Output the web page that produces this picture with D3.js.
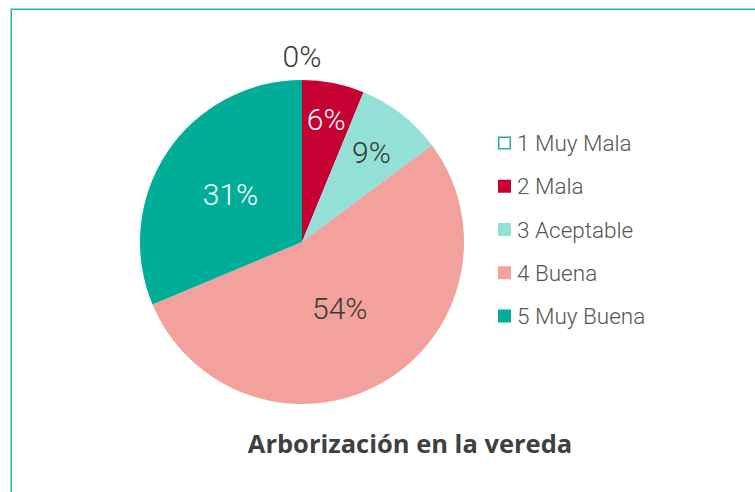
<!DOCTYPE html>
<html>
<head>
<meta charset="utf-8">
<script src="https://cdn.jsdelivr.net/npm/d3@7"></script>
<style>
  body { margin: 0; background: #fff; }
  svg { display: block; font-family: Roboto, "Noto Sans", sans-serif; }
</style>
</head>
<body>
<div class="chart"></div>
<script>
// data
var categories = ["1 Muy Mala", "2 Mala", "3 Aceptable", "4 Buena", "5 Muy Buena"];
var values = [0, 6.2, 8.6, 53.9, 31.3];
var colors = ["#ffffff", "#c70032", "#93e1d6", "#f3a19c", "#00ad98"];
var title = "Arborización en la vereda";

// label layout (fraction of radius), text colour per slice
var labelRadius = [1.15, 0.77, 0.70, 0.47, 0.53];
var labelColor = ["#3a3a3a", "#ffffff", "#3a3a3a", "#3a3a3a", "#ffffff"];

var width = 755, height = 492;
var cx = 302, cy = 242, radius = 162;

var svg = d3.select(".chart")
	.append("svg")
	.attr("width", width)
	.attr("height", height);

// frame
svg.append("path")
	.attr("d", "M10.5," + height + "V8.5H" + width)
	.attr("fill", "none")
	.attr("stroke", "#8fded3")
	.attr("stroke-width", 1);
svg.append("path")
	.attr("d", "M11.5," + height + "V9.5H" + width)
	.attr("fill", "none")
	.attr("stroke", "#1fb39f")
	.attr("stroke-width", 1);

var total = d3.sum(values);

var pie = d3.pie().sort(null).value(function(d){ return d; });
var arcs = pie(values);

var arc = d3.arc().innerRadius(0).outerRadius(radius);

var g = svg.append("g").attr("transform", "translate(" + cx + "," + cy + ")");

g.selectAll("path.slice")
	.data(arcs)
	.enter()
	.append("path")
		.attr("class", "slice")
		.attr("d", arc)
		.attr("fill", function(d, i){ return colors[i]; });

g.selectAll("text.lbl")
	.data(arcs)
	.enter()
	.append("text")
		.attr("class", "lbl")
		.attr("transform", function(d, i){
			var r = radius * labelRadius[i];
			var a = (d.startAngle + d.endAngle) / 2;
			return "translate(" + (Math.sin(a) * r) + "," + (-Math.cos(a) * r) + ")";
		})
		.attr("text-anchor", "middle")
		.attr("dy", "0.36em")
		.attr("font-size", 30)
		.attr("font-weight", 300)
		.attr("fill", function(d, i){ return labelColor[i]; })
		.text(function(d){ return Math.round(d.data / total * 100) + "%"; });

// legend
var legendY = d3.scalePoint()
	.domain(categories)
	.range([143, 316]);

var legend = svg.selectAll("g.legend")
	.data(categories)
	.enter()
	.append("g")
		.attr("class", "legend")
		.attr("transform", function(d){ return "translate(498," + legendY(d) + ")"; });

legend.append("rect")
	.attr("x", function(d, i){ return i === 0 ? 0.75 : 0; })
	.attr("y", function(d, i){ return i === 0 ? -5.75 : -6.5; })
	.attr("width", function(d, i){ return i === 0 ? 11.5 : 13; })
	.attr("height", function(d, i){ return i === 0 ? 11.5 : 13; })
	.attr("fill", function(d, i){ return colors[i]; })
	.attr("stroke", function(d, i){ return i === 0 ? "#1fb39f" : "none"; })
	.attr("stroke-width", 1.5);

legend.append("text")
	.attr("x", 19)
	.attr("dy", "0.36em")
	.attr("font-size", 22.5)
	.attr("font-weight", 300)
	.attr("fill", "#555")
	.text(function(d){ return d; });

// title
svg.append("text")
	.attr("x", 410)
	.attr("y", 453)
	.attr("text-anchor", "middle")
	.attr("font-family", "'Open Sans', Roboto, sans-serif")
	.attr("font-size", 25.5)
	.attr("font-weight", 700)
	.attr("fill", "#404040")
	.text(title);
</script>
</body>
</html>
